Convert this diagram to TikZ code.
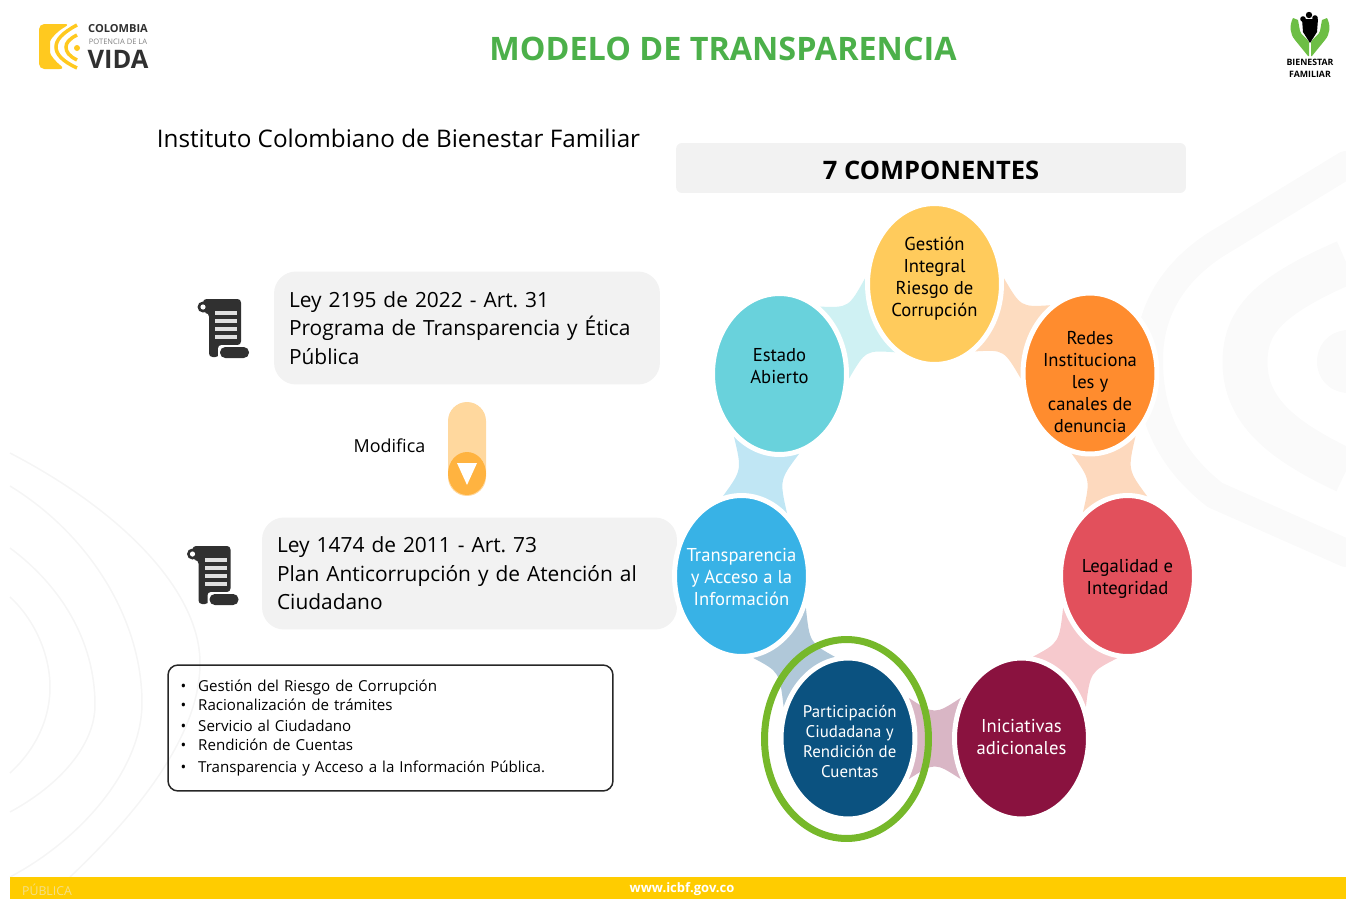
\documentclass[tikz,border=0pt]{standalone}
\usepackage{fontspec}
\setmainfont{Open Sans}
\newfontfamily\estrecha{PT Sans}
\frenchspacing
\usetikzlibrary{calc,shapes.geometric,backgrounds}

\definecolor{verdetitulo}{HTML}{4CB04A}
\definecolor{verdemano}{HTML}{6DBE45}
\definecolor{gris}{HTML}{F2F2F2}
\definecolor{oscuro}{HTML}{303030}
\definecolor{amarillo}{HTML}{FFCC00}
\definecolor{amarillologo}{HTML}{FFC91F}
\definecolor{marca}{HTML}{FAFAFA}
\definecolor{lineafondo}{HTML}{F5F5F5}
\definecolor{publicatxt}{HTML}{F3DF8C}

\tikzset{
    bola/.style={ellipse, draw=white, line width=.1cm, inner sep=0pt,
        minimum width=2.68cm, minimum height=3.22cm},
    txtbola/.style={align=center, inner sep=0pt, text=#1,
        font=\estrecha\fontsize{10.6}{12.5}\selectfont},
    caja/.style={rectangle, fill=gris, rounded corners=.44cm, inner xsep=.3cm,
        align=left, anchor=center, font=\fontsize{11.9}{16.2}\selectfont},
    pergamino/.pic={
        % cuerpo y rollo superior
        \fill[oscuro, rounded corners=2pt] (5,0) -- (43,0) -- (43,46) -- (24,46) -- (21,58) -- (11,58) -- (11,14) -- (5,14) -- cycle;
        \fill[oscuro] (5,8) circle (5.5);
        \fill[white] (5,8) circle (2.6);
        % rollo inferior
        \fill[white, rounded corners=2pt] (20,46) rectangle (46,60);
        \fill[oscuro, rounded corners=3pt] (22,48) rectangle (51,59);
        \foreach \y in {14,22,30,38}
            \fill[white!85!oscuro] (17,\y-1.7) rectangle (39,\y+1.7);
    }
}

% enlace concavo entre dos bolas
\newcommand{\enlace}[7]{
    \fill[#7] (#1.#3) .. controls ($($(#1.#3)!.5!(#2.#4)$)!.42!($(#1)!.5!(#2)$)$) .. (#2.#4)
        -- (#2.#5) .. controls ($($(#2.#5)!.5!(#1.#6)$)!.42!($(#1)!.5!(#2)$)$) .. (#1.#6) -- cycle;
}

\begin{document}
\begin{tikzpicture}[x=0.02cm, y=-0.02cm]
    \useasboundingbox (0,0) rectangle (1346,899);

    % Marca de agua de fondo
    \begin{scope}[line cap=round]
        \draw[marca, line width=.56cm] (1346,165) -- (1215,245) .. controls (1165,278) and (1149,320) .. (1149,360) .. controls (1149,415) and (1170,460) .. (1215,495) -- (1346,553);
        \draw[marca, line width=.9cm, line cap=butt] (1346,262) .. controls (1270,295) and (1245,320) .. (1245,362) .. controls (1245,410) and (1280,440) .. (1346,471);
        \fill[marca] (1346,330) .. controls (1328,332) and (1317,345) .. (1317,362) .. controls (1317,378) and (1328,391) .. (1346,393) -- cycle;
    \end{scope}
    \draw[lineafondo, line width=.03cm] (10,453) .. controls (120,510) and (200,590) .. (200,663) .. controls (200,740) and (130,820) .. (70,877);
    \draw[lineafondo, line width=.03cm] (10,486) .. controls (90,535) and (142,620) .. (142,703) .. controls (142,770) and (80,840) .. (10,877);
    \draw[lineafondo, line width=.03cm] (10,548) .. controls (60,585) and (95,640) .. (95,705) .. controls (95,745) and (60,785) .. (10,812);
    \draw[lineafondo, line width=.03cm] (10,597) .. controls (35,620) and (50,655) .. (50,687) .. controls (50,720) and (35,750) .. (10,773);

    % Franja inferior
    \fill[amarillo] (10,877) rectangle (1346,899);
    \node[text=publicatxt, font=\fontsize{7}{10}\selectfont] (publica) at (47,890) {PÚBLICA};
    \node[text=white, font=\bfseries\fontsize{7.4}{10}\selectfont] (web) at (682,889) {www.icbf.gov.co};

    % Logo izquierdo
    \fill[amarillologo, rounded corners=3pt] (39,24) -- (70,24) .. controls (56,32) and (50,40) .. (50,47) .. controls (50,55) and (56,62) .. (65,69) -- (39,69) -- cycle;
    \draw[amarillologo, line width=.07cm] (77,25) .. controls (62,33) and (56,40) .. (56,47) .. controls (56,54) and (62,61) .. (77,68);
    \draw[amarillologo, line width=.07cm] (77,35) .. controls (69,39) and (66,43) .. (66,47) .. controls (66,52) and (69,56) .. (77,60);
    \fill[amarillologo] (77,48) circle (3);
    \node[text=oscuro, font=\bfseries\fontsize{6.3}{8}\selectfont, inner sep=0pt] (colombia) at (118,29) {COLOMBIA};
    \node[text=gray, font=\fontsize{4.3}{6}\selectfont, inner sep=0pt] (potencia) at (118,42) {POTENCIA DE LA};
    \node[text=oscuro, font=\bfseries\fontsize{14.5}{16}\selectfont, inner sep=0pt] (vida) at (118,59) {VIDA};

    % Logo derecho
    \foreach \lado in {1,-1}
        \fill[verdemano, xshift=1310*0.02cm, xscale=\lado] (-17,18) .. controls (-21,26) and (-20,34) .. (-15,40) -- (-2,56) -- (-1,56) -- (-1,42) .. controls (-4,37) and (-9,35) .. (-10,31) -- (-12,20) -- cycle;
    \fill[black] (1302,19) -- (1318,19) -- (1317,32) -- (1310,43) -- (1303,32) -- cycle;
    \fill[black] (1309,15) circle (3.2) (1303,19) circle (2.8) (1315,18) circle (2.8);
    \node[font=\bfseries\fontsize{5}{7}\selectfont, inner sep=0pt] (bienestar) at (1310,62) {BIENESTAR};
    \node[font=\bfseries\fontsize{5}{7}\selectfont, inner sep=0pt] (familiar) at (1310,74) {FAMILIAR};

    % Titulos
    \node[text=verdetitulo, font=\bfseries\fontsize{18.4}{22}\selectfont] (titulo) at (723,49) {MODELO DE TRANSPARENCIA};
    \node[font=\fontsize{13.8}{16}\selectfont] (instituto) at (398.5,138) {Instituto Colombiano de Bienestar Familiar};
    \node[fill=gris, rounded corners=.12cm, minimum width=10.2cm, minimum height=1cm] (componentes) at (931,168) {};
    \node[font=\bfseries\fontsize{14.5}{16}\selectfont] (componentestxt) at (931,170) {7 COMPONENTES};

    % Cajas de las leyes
    \node[caja, text width=7.12cm, minimum height=2.26cm] (ley2195) at (467,328) {Ley 2195 de 2022 - Art. 31\\Programa de Transparencia y Ética\\Pública};
    \node[caja, text width=7.7cm, minimum height=2.24cm] (ley1474) at (469.5,573.5) {Ley 1474 de 2011 - Art. 73\\Plan Anticorrupción y de Atención al\\Ciudadano};
    \pic at (198,299) {pergamino};
    \pic at (187.5,546) {pergamino};

    % Flecha modifica
    \node[font=\fontsize{10.2}{12}\selectfont] (modifica) at (389.5,445.5) {Modifica};
    \node[rectangle, fill={rgb,255:red,255;green,216;blue,158}, rounded corners=.38cm, minimum width=.76cm, minimum height=1.88cm] (barra) at (467,449) {};
    \node[ellipse, fill={rgb,255:red,255;green,179;blue,64}, inner sep=0pt, minimum width=.76cm, minimum height=.86cm] (punta) at (467,473.5) {};
    \fill[white] (457,463) -- (477,463) -- (467,485) -- cycle;

    % Lista
    \node[rectangle, draw=black!85, line width=.03cm, rounded corners=.2cm, minimum width=8.9cm, minimum height=2.52cm, text width=8.4cm, align=left, font=\fontsize{8.6}{11.6}\selectfont] (lista) at (390.5,728) {%
        \textbullet\hspace{.24cm}Gestión del Riesgo de Corrupción\\[-.85pt]
        \textbullet\hspace{.24cm}Racionalización de trámites\\[.3pt]
        \textbullet\hspace{.24cm}Servicio al Ciudadano\\[-.3pt]
        \textbullet\hspace{.24cm}Rendición de Cuentas\\[.85pt]
        \textbullet\hspace{.24cm}Transparencia y Acceso a la Información Pública.};

    % Bolas
    \node[bola, fill={rgb,255:red,255;green,203;blue,92}, label={[txtbola=black, yshift=2.8pt]center:{Gestión\\Integral\\Riesgo de\\Corrupción}}] (gestion) at (934.5,284) {};
    \node[bola, fill={rgb,255:red,255;green,140;blue,46}, label={[txtbola=black, yshift=-4.8pt]center:{Redes\\Instituciona\\les y\\canales de\\denuncia}}] (redes) at (1090,373.5) {};
    \node[bola, fill={rgb,255:red,226;green,80;blue,92}, label={[txtbola=black, yshift=-1.4pt]center:{Legalidad e\\Integridad}}] (legalidad) at (1127.5,576) {};
    \node[bola, fill={rgb,255:red,138;green,18;blue,63}, label={[txtbola=white, yshift=.9pt]center:{Iniciativas\\adicionales}}] (iniciativas) at (1021.5,738.5) {};
    \node[bola, fill={rgb,255:red,11;green,82;blue,128}, label={[txtbola=white, xshift=1pt, yshift=-1.9pt, font=\estrecha\fontsize{9.6}{11.4}\selectfont]center:{Participación\\Ciudadana y\\Rendición de\\Cuentas}}] (participacion) at (848,738.5) {};
    \node[bola, fill={rgb,255:red,56;green,178;blue,230}, label={[txtbola=white, yshift=-.5pt]center:{Transparencia\\y Acceso a la\\Información}}] (transparencia) at (741.5,576) {};
    \node[bola, fill={rgb,255:red,105;green,210;blue,220}, label={[txtbola=black, yshift=4.5pt]center:{Estado\\Abierto}}] (estado) at (779.5,374) {};

    % Enlaces entre las bolas
    \begin{scope}[on background layer]
        \definecolor{e1}{HTML}{CFF1F3}
        \definecolor{e2}{HTML}{FDDCC0}
        \definecolor{e3}{HTML}{FDD9BE}
        \definecolor{e4}{HTML}{F6C9CD}
        \definecolor{e5}{HTML}{D9B6C5}
        \definecolor{e6}{HTML}{B0C8D9}
        \definecolor{e7}{HTML}{C0E6F4}
        \enlace{estado}{gestion}{59}{175}{240}{-4}{e1}
        \enlace{gestion}{redes}{5}{120}{184}{-59}{e2}
        \enlace{redes}{legalidad}{-54}{76}{125}{257}{e3}
        \enlace{legalidad}{iniciativas}{263}{26}{82}{206}{e4}
        \enlace{iniciativas}{participacion}{146}{34}{-34}{214}{e5}
        \enlace{participacion}{transparencia}{99}{-26}{278}{154}{e6}
        \enlace{transparencia}{estado}{54}{284}{234}{103}{e7}
    \end{scope}

    % Aro verde
    \node[ellipse, draw={rgb,255:red,118;green,184;blue,42}, line width=.14cm, minimum width=3.28cm, minimum height=3.98cm] (aro) at (846.5,739) {};
\end{tikzpicture}
\end{document}
